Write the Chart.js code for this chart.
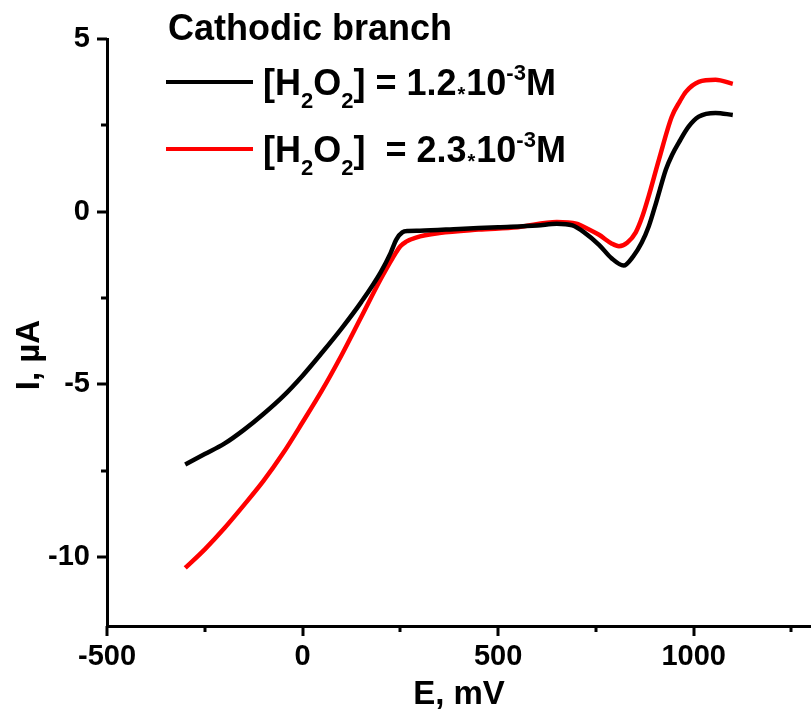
<!DOCTYPE html>
<html>
<head>
<meta charset="utf-8">
<script src="https://cdn.jsdelivr.net/npm/chart.js@4.4.1/dist/chart.umd.min.js"></script>
<style>
html,body{margin:0;padding:0;background:#fff;}
#wrap{width:811px;height:715px;position:relative;}
</style>
</head>
<body>
<div id="wrap"><canvas id="c" width="811" height="715"></canvas></div>
<script>
// ---- data ----
const E_black = [-300,-250,-200,-150,-100,-50,0,50,100,150,200,225,240,255,270,300,400,500,600,650,690,720,758,790,821,845,867,885,905,929,945,962,987,1013,1056,1100];
const I_black = [-7.32,-7.02,-6.72,-6.32,-5.86,-5.35,-4.75,-4.08,-3.38,-2.62,-1.75,-1.2,-0.8,-0.6,-0.56,-0.55,-0.5,-0.45,-0.4,-0.35,-0.4,-0.6,-0.96,-1.35,-1.56,-1.3,-0.9,-0.43,0.3,1.22,1.65,2.0,2.46,2.75,2.86,2.8];
const E_red = [-300,-250,-200,-150,-100,-50,0,50,100,150,200,230,250,265,290,350,450,550,650,700,730,758,790,809,830,852,870,885,911,944,965,980,1013,1056,1100];
const I_red = [-10.32,-9.78,-9.17,-8.5,-7.8,-7.0,-6.1,-5.17,-4.15,-3.05,-1.95,-1.35,-1.0,-0.87,-0.75,-0.62,-0.52,-0.45,-0.3,-0.35,-0.5,-0.67,-0.92,-1.0,-0.9,-0.6,-0.1,0.45,1.5,2.75,3.2,3.47,3.76,3.82,3.7];
const xTickValues = [-500,-250,0,250,500,750,1000,1250];
const xLabelValues = [-500,0,500,1000];
const yTickValues = [-10,-7.5,-5,-2.5,0,2.5,5];
const yLabelValues = [-10,-5,0,5];
const legendTitle = "Cathodic branch";
const seriesNames = ["[H2O2] = 1.2*10-3M", "[H2O2]  = 2.3*10-3M"];
const xTitle = "E, mV";
const yTitle = "I, \u00b5A";

const toPts = (xs, ys) => xs.map((x, i) => ({x: x, y: ys[i]}));

const FONT = '"Liberation Sans", Arial, sans-serif';

const tickPlugin = {
  id: 'tickMarks',
  afterDraw(chart) {
    const ctx = chart.ctx;
    const xs = chart.scales.x, ys = chart.scales.y;
    const area = chart.chartArea;
    ctx.save();
    ctx.strokeStyle = '#000';
    ctx.lineWidth = 3;
    ctx.lineCap = 'butt';
    xTickValues.forEach(v => {
      const px = Math.round(xs.getPixelForValue(v));
      const len = xLabelValues.includes(v) ? 10 : 6;
      ctx.beginPath();
      ctx.moveTo(px, area.bottom);
      ctx.lineTo(px, area.bottom + len);
      ctx.stroke();
    });
    yTickValues.forEach(v => {
      const py = Math.round(ys.getPixelForValue(v));
      const len = yLabelValues.includes(v) ? 10 : 6;
      ctx.beginPath();
      ctx.moveTo(area.left, py);
      ctx.lineTo(area.left - len, py);
      ctx.stroke();
    });
    // y axis title
    ctx.fillStyle = '#000';
    ctx.font = 'bold 33px ' + FONT;
    ctx.textAlign = 'center';
    ctx.textBaseline = 'middle';
    ctx.translate(30, 355);
    ctx.rotate(-Math.PI / 2);
    ctx.fillText(yTitle, 0, 0);
    ctx.restore();
  }
};

function drawRich(ctx, x, baseline, parts) {
  parts.forEach(p => {
    ctx.font = 'bold ' + p.size + 'px ' + FONT;
    ctx.fillText(p.t, x, baseline + (p.dy || 0));
    x += ctx.measureText(p.t).width + (p.after || 0);
  });
}

const legendPlugin = {
  id: 'richLegend',
  afterDraw(chart) {
    const ctx = chart.ctx;
    ctx.save();
    ctx.fillStyle = '#000';
    ctx.textBaseline = 'alphabetic';
    ctx.font = 'bold 36px ' + FONT;
    ctx.fillText(legendTitle, 168, 40);
    const rows = [
      {color: '#000000', lineY: 82, base: 95, conc: '1.2', sep: ' '},
      {color: '#ff0000', lineY: 149, base: 162, conc: '2.3', sep: '  '}
    ];
    rows.forEach(r => {
      ctx.strokeStyle = r.color;
      ctx.lineWidth = 4;
      ctx.beginPath();
      ctx.moveTo(166, r.lineY);
      ctx.lineTo(253, r.lineY);
      ctx.stroke();
      ctx.fillStyle = '#000';
      drawRich(ctx, 263, r.base, [
        {t: '[H', size: 36},
        {t: '2', size: 22, dy: 13},
        {t: 'O', size: 36},
        {t: '2', size: 22, dy: 13},
        {t: ']' + r.sep + '= ' + r.conc, size: 36, after: 1},
        {t: '*', size: 20, dy: 6, after: 1},
        {t: '10', size: 36},
        {t: '-3', size: 22, dy: -15},
        {t: 'M', size: 36}
      ]);
    });
    ctx.restore();
  }
};

new Chart(document.getElementById('c'), {
  type: 'line',
  data: {
    datasets: [
      {label: seriesNames[0], data: toPts(E_black, I_black), borderColor: '#000000', borderWidth: 4.5, pointRadius: 0, cubicInterpolationMode: 'monotone', fill: false},
      {label: seriesNames[1], data: toPts(E_red, I_red), borderColor: '#ff0000', borderWidth: 4.5, pointRadius: 0, cubicInterpolationMode: 'monotone', fill: false}
    ]
  },
  options: {
    responsive: false,
    animation: false,
    layout: {padding: {top: 39, right: 0, left: 0, bottom: 0}},
    plugins: {legend: {display: false}, tooltip: {enabled: false}},
    scales: {
      x: {
        type: 'linear', min: -500, max: 1300,
        afterBuildTicks: s => { s.ticks = xTickValues.map(v => ({value: v})); },
        afterFit: s => { s.height = 89; },
        grid: {display: true, drawOnChartArea: false, drawTicks: true, tickLength: 10, tickColor: 'rgba(0,0,0,0)'},
        border: {display: true, color: '#000', width: 3},
        ticks: {
          padding: 4, color: '#000', maxRotation: 0, autoSkip: false,
          font: {family: FONT, size: 29, weight: 'bold'},
          callback: v => xLabelValues.includes(v) ? String(v) : ''
        },
        title: {display: true, text: xTitle, color: '#000', padding: {top: 0, bottom: 0}, font: {family: FONT, size: 33, weight: 'bold'}}
      },
      y: {
        type: 'linear', min: -12, max: 5,
        afterBuildTicks: s => { s.ticks = yTickValues.map(v => ({value: v})); },
        afterFit: s => { s.width = 107; },
        grid: {display: true, drawOnChartArea: false, drawTicks: true, tickLength: 10, tickColor: 'rgba(0,0,0,0)'},
        border: {display: true, color: '#000', width: 3},
        ticks: {
          padding: 7, color: '#000', autoSkip: false,
          font: {family: FONT, size: 29, weight: 'bold'},
          callback: v => yLabelValues.includes(v) ? String(v) : ''
        },
        title: {display: false}
      }
    }
  },
  plugins: [tickPlugin, legendPlugin]
});
</script>
</body>
</html>
